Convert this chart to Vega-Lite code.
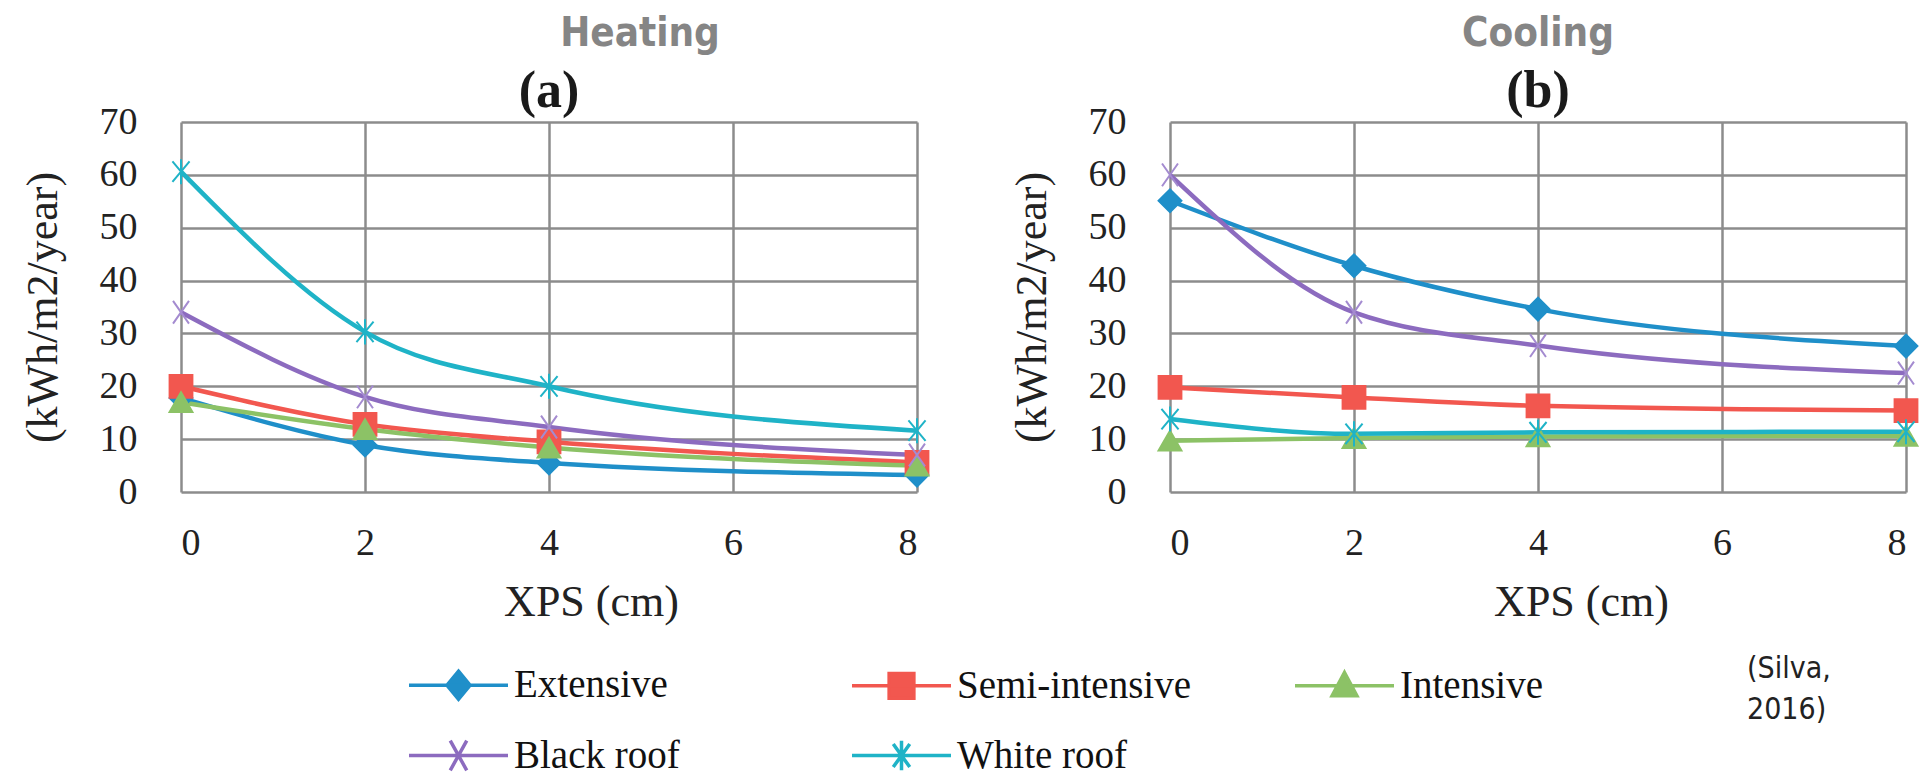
{
  "$schema": "https://vega.github.io/schema/vega-lite/v6.json",
  "background": "white",
  "padding": {"left": 21, "top": 14, "right": 4, "bottom": 145},
  "config": {
    "view": {"stroke": null},
    "axis": {
      "labelFont": "Liberation Serif",
      "labelFontSize": 38,
      "labelColor": "#222222",
      "titleFont": "Liberation Serif",
      "titleFontSize": 44,
      "titleFontWeight": "normal",
      "titleColor": "#222222",
      "gridColor": "#8c8c8c",
      "gridWidth": 2.5,
      "gridOpacity": 1,
      "domain": false,
      "ticks": false
    }
  },
  "datasets": {
    "heating": [
      {"xps": 0, "roof": "Extensive", "value": 17.8},
      {"xps": 2, "roof": "Extensive", "value": 8.9},
      {"xps": 4, "roof": "Extensive", "value": 5.5},
      {"xps": 8, "roof": "Extensive", "value": 3.2},
      {"xps": 0, "roof": "Semi-intensive", "value": 20.0},
      {"xps": 2, "roof": "Semi-intensive", "value": 12.8},
      {"xps": 4, "roof": "Semi-intensive", "value": 9.5},
      {"xps": 8, "roof": "Semi-intensive", "value": 5.6},
      {"xps": 0, "roof": "Intensive", "value": 17.0},
      {"xps": 2, "roof": "Intensive", "value": 11.9},
      {"xps": 4, "roof": "Intensive", "value": 8.4},
      {"xps": 8, "roof": "Intensive", "value": 5.0},
      {"xps": 0, "roof": "Black roof", "value": 34.0},
      {"xps": 2, "roof": "Black roof", "value": 18.0},
      {"xps": 4, "roof": "Black roof", "value": 12.3},
      {"xps": 8, "roof": "Black roof", "value": 7.0},
      {"xps": 0, "roof": "White roof", "value": 60.6},
      {"xps": 2, "roof": "White roof", "value": 30.3},
      {"xps": 4, "roof": "White roof", "value": 20.0},
      {"xps": 8, "roof": "White roof", "value": 11.6}
    ],
    "cooling": [
      {"xps": 0, "roof": "Extensive", "value": 55.1},
      {"xps": 2, "roof": "Extensive", "value": 42.8},
      {"xps": 4, "roof": "Extensive", "value": 34.6},
      {"xps": 8, "roof": "Extensive", "value": 27.6},
      {"xps": 0, "roof": "Semi-intensive", "value": 19.8},
      {"xps": 2, "roof": "Semi-intensive", "value": 17.9},
      {"xps": 4, "roof": "Semi-intensive", "value": 16.3},
      {"xps": 8, "roof": "Semi-intensive", "value": 15.4},
      {"xps": 0, "roof": "Intensive", "value": 9.7},
      {"xps": 2, "roof": "Intensive", "value": 10.2},
      {"xps": 4, "roof": "Intensive", "value": 10.5},
      {"xps": 8, "roof": "Intensive", "value": 10.6},
      {"xps": 0, "roof": "Black roof", "value": 60.0},
      {"xps": 2, "roof": "Black roof", "value": 34.0},
      {"xps": 4, "roof": "Black roof", "value": 27.7},
      {"xps": 8, "roof": "Black roof", "value": 22.5},
      {"xps": 0, "roof": "White roof", "value": 13.8},
      {"xps": 2, "roof": "White roof", "value": 11.0},
      {"xps": 4, "roof": "White roof", "value": 11.3},
      {"xps": 8, "roof": "White roof", "value": 11.4}
    ]
  },
  "bounds": "flush",
  "spacing": 253,
  "resolve": {"scale": {"color": "independent", "shape": "independent", "stroke": "independent"}},
  "hconcat": [
    {
      "width": 736,
      "height": 370,
      "data": {"name": "heating"},
      "title": {
        "text": "Heating",
        "subtitle": "(a)",
        "anchor": "middle",
        "font": "Liberation Sans Narrow, DejaVu Sans Condensed, sans-serif",
        "fontSize": 40,
        "fontWeight": "bold",
        "color": "#858585",
        "subtitleFont": "Liberation Serif",
        "subtitleFontSize": 52,
        "subtitleFontWeight": "bold",
        "subtitleColor": "#1a1a1a",
        "subtitlePadding": 12,
        "offset": -14,
        "encoding": {"dx": {"value": 91}}
      },
      "encoding": {
        "x": {"field": "xps", "type": "quantitative", "scale": {"domain": [0, 8], "nice": false},
              "axis": {"values": [0, 2, 4, 6, 8], "title": "XPS (cm)", "labelPadding": 32, "titlePadding": 18, "titleX": 410}},
        "y": {"field": "value", "type": "quantitative", "scale": {"domain": [0, 70], "nice": false},
              "axis": {"values": [0, 10, 20, 30, 40, 50, 60, 70], "title": "(kWh/m2/year)", "labelPadding": 44, "titlePadding": 34}}
      },
      "resolve": {"scale": {"color": "independent", "shape": "independent", "stroke": "independent"}},
      "layer": [
        {
          "mark": {"type": "line", "interpolate": "monotone", "strokeWidth": 4.5},
          "encoding": {
            "color": {"field": "roof", "type": "nominal",
              "scale": {"domain": ["Extensive", "Semi-intensive", "Intensive", "Black roof", "White roof"],
                        "range": ["#1f8fc9", "#f2574f", "#8cc266", "#8c6bbf", "#1fb3c7"]},
              "legend": null},
            "detail": {"field": "roof"}
          }
        },
        {
          "mark": {"type": "point", "filled": true, "size": 520, "strokeWidth": 2, "opacity": 1},
          "encoding": {
            "color": {"field": "roof", "type": "nominal",
              "scale": {"domain": ["Extensive", "Semi-intensive", "Intensive", "Black roof", "White roof"],
                        "range": ["#1f8fc9", "#f2574f", "#8cc266", "#8c6bbf", "#1fb3c7"]},
              "legend": null},
            "stroke": {"field": "roof", "type": "nominal",
              "scale": {"domain": ["Extensive", "Semi-intensive", "Intensive", "Black roof", "White roof"],
                        "range": ["#1f8fc9", "#f2574f", "#8cc266", "#a48bd0", "#1fb3c7"]},
              "legend": null},
            "shape": {"field": "roof", "type": "nominal",
              "scale": {"domain": ["Extensive", "Semi-intensive", "Intensive", "Black roof", "White roof"],
                        "range": ["diamond", "square", "triangle-up", "M-0.7,-1L0.7,1M0.7,-1L-0.7,1", "M-0.75,-0.9L0.75,0.9M0.75,-0.9L-0.75,0.9M0,-1.1V1.1"]},
              "legend": null}
          }
        },
        {
          "mark": {"type": "point", "filled": true, "size": 520, "opacity": 0},
          "encoding": {
            "color": {"field": "roof", "type": "nominal",
              "scale": {"domain": ["Extensive", "Semi-intensive", "Intensive", "Black roof", "White roof"],
                        "range": ["#1f8fc9", "#f2574f", "#8cc266", "#8c6bbf", "#1fb3c7"]}},
            "stroke": {"field": "roof", "type": "nominal",
              "scale": {"domain": ["Extensive", "Semi-intensive", "Intensive", "Black roof", "White roof"],
                        "range": ["#1f8fc9", "#f2574f", "#8cc266", "#8c6bbf", "#1fb3c7"]}},
            "shape": {"field": "roof", "type": "nominal",
              "scale": {"domain": ["Extensive", "Semi-intensive", "Intensive", "Black roof", "White roof"],
                        "range": ["M-3,0H3M0,-0.85L0.7,0L0,0.85L-0.7,0Z", "M-3,0H3M-0.75,-0.75H0.75V0.75H-0.75Z", "M-3,0H3M0,-0.8L0.75,0.6H-0.75Z", "M-3,0H3M-0.5,-0.9L0.5,0.9M0.5,-0.9L-0.5,0.9", "M-3,0H3M-0.5,-0.7L0.5,0.7M0.5,-0.7L-0.5,0.7M0,-0.9V0.9"]},
              "legend": {
                "orient": "none", "legendX": 258, "legendY": 543, "direction": "horizontal",
                "title": ["(Silva,", "2016)"], "titleOrient": "right", "titleAnchor": "start",
                "titleFont": "Liberation Sans Narrow, DejaVu Sans Condensed, sans-serif",
                "titleFontSize": 30, "titleFontWeight": "normal", "titleColor": "#222222",
                "titleLineHeight": 41, "titlePadding": 204, "titleLimit": 0, "titleAlign": "left", "titleBaseline": "top",
                "columns": 3, "gridAlign": "all", "columnPadding": 97, "rowPadding": 26,
                "padding": 0,
                "labelFont": "Liberation Serif", "labelFontSize": 39, "labelColor": "#111111", "labelLimit": 0,
                "symbolSize": 1089, "labelOffset": 36, "symbolStrokeWidth": 3.5, "symbolOpacity": 1,
                "encoding": {"title": {"dy": {"value": -11}}}
              }
            }
          }
        }
      ]
    },
    {
      "width": 736,
      "height": 370,
      "data": {"name": "cooling"},
      "title": {
        "text": "Cooling",
        "subtitle": "(b)",
        "anchor": "middle",
        "font": "Liberation Sans Narrow, DejaVu Sans Condensed, sans-serif",
        "fontSize": 40,
        "fontWeight": "bold",
        "color": "#858585",
        "subtitleFont": "Liberation Serif",
        "subtitleFontSize": 52,
        "subtitleFontWeight": "bold",
        "subtitleColor": "#1a1a1a",
        "subtitlePadding": 12,
        "offset": -14
      },
      "encoding": {
        "x": {"field": "xps", "type": "quantitative", "scale": {"domain": [0, 8], "nice": false},
              "axis": {"values": [0, 2, 4, 6, 8], "title": "XPS (cm)", "labelPadding": 32, "titlePadding": 18, "titleX": 411}},
        "y": {"field": "value", "type": "quantitative", "scale": {"domain": [0, 70], "nice": false},
              "axis": {"values": [0, 10, 20, 30, 40, 50, 60, 70], "title": "(kWh/m2/year)", "labelPadding": 44, "titlePadding": 34}}
      },
      "layer": [
        {
          "mark": {"type": "line", "interpolate": "monotone", "strokeWidth": 4.5},
          "encoding": {
            "color": {"field": "roof", "type": "nominal",
              "scale": {"domain": ["Extensive", "Semi-intensive", "Intensive", "Black roof", "White roof"],
                        "range": ["#1f8fc9", "#f2574f", "#8cc266", "#8c6bbf", "#1fb3c7"]},
              "legend": null},
            "detail": {"field": "roof"}
          }
        },
        {
          "mark": {"type": "point", "filled": true, "size": 520, "strokeWidth": 2, "opacity": 1},
          "encoding": {
            "color": {"field": "roof", "type": "nominal", "legend": null},
            "stroke": {"field": "roof", "type": "nominal",
              "scale": {"domain": ["Extensive", "Semi-intensive", "Intensive", "Black roof", "White roof"],
                        "range": ["#1f8fc9", "#f2574f", "#8cc266", "#a48bd0", "#1fb3c7"]},
              "legend": null},
            "shape": {"field": "roof", "type": "nominal",
              "scale": {"domain": ["Extensive", "Semi-intensive", "Intensive", "Black roof", "White roof"],
                        "range": ["diamond", "square", "triangle-up", "M-0.7,-1L0.7,1M0.7,-1L-0.7,1", "M-0.75,-0.9L0.75,0.9M0.75,-0.9L-0.75,0.9M0,-1.1V1.1"]},
              "legend": null}
          }
        }
      ]
    }
  ]
}
